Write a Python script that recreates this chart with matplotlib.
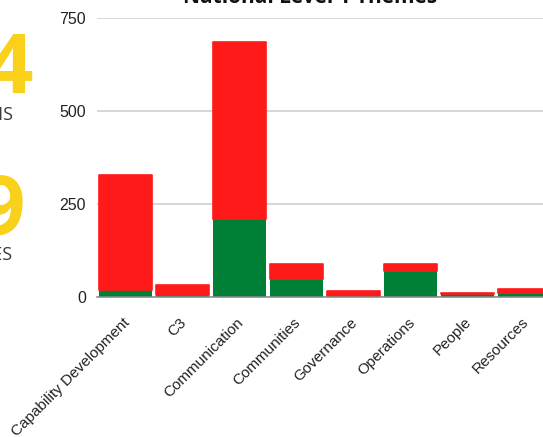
import matplotlib.pyplot as plt
from matplotlib.transforms import ScaledTranslation

# Theme counts per category (green = closed, red = still open)
categories = ["Capability Development", "C3", "Communication", "Communities",
              "Governance", "Operations", "People", "Resources"]
closed = [20, 6, 210, 48, 4, 71, 8, 12]
open_items = [308, 25, 475, 41, 11, 19, 4, 10]
y_ticks = [0, 250, 500, 750]

GREEN = "#008037"
RED = "#ff1a1a"

W, H = 543, 437
fig = plt.figure(figsize=(W / 100, H / 100), dpi=100)

# axes placed in pixel terms; the right end runs past the figure edge
left, right, top, bottom = 97, 97 + 57 * len(categories), 18, 297
ax = fig.add_axes([left / W, 1 - bottom / H, (right - left) / W, (bottom - top) / H])

x = range(len(categories))
ax.bar(x, closed, width=0.93, color=GREEN, zorder=3)
ax.bar(x, open_items, bottom=closed, width=0.93, color=RED, edgecolor=RED,
       linewidth=1.2, joinstyle="round", zorder=3)

ax.set_xlim(-0.5, len(categories) - 0.5)
ax.set_ylim(0, 750)
ax.set_yticks(y_ticks)
ax.set_yticklabels([str(v) for v in y_ticks], fontsize=11.5,
                   fontfamily="Liberation Sans", color="#222222")
ax.set_xticks(list(x))
ax.set_xticklabels(categories, rotation=45, ha="right", va="top",
                   fontsize=11, fontfamily="Liberation Sans", color="#222222")
ax.tick_params(axis="y", length=0, pad=8)
ax.tick_params(axis="x", length=0, pad=5)

# nudge the slanted category labels down and right of the bar centres
shift = ScaledTranslation(5 / 72, -8 / 72, fig.dpi_scale_trans)
for lbl in ax.get_xticklabels():
    lbl.set_transform(lbl.get_transform() + shift)

ax.grid(axis="y", color="#cccccc", linewidth=1.1, zorder=0)
for s in ["top", "right", "left"]:
    ax.spines[s].set_visible(False)
ax.spines["bottom"].set_color("#888888")
ax.spines["bottom"].set_linewidth(1.1)
ax.spines["bottom"].set_zorder(4)

fig.text(310 / W, 1 - 3 / H, "National Level 1 Themes", ha="center", va="baseline",
         fontsize=15, fontweight="bold", fontfamily="Open Sans", color="#111111")

# summary figures on the left, partly cut by the figure edge
fig.text(33 / W, 1 - 93 / H, "4", ha="right", va="baseline", fontsize=60,
         fontweight="bold", fontfamily="Open Sans", color="#f9d11b")
fig.text(13 / W, 1 - 120 / H, "ACTIONS", ha="right", va="baseline", fontsize=13,
         fontfamily="Open Sans", color="#3a3a3a")
fig.text(25 / W, 1 - 235 / H, "9", ha="right", va="baseline", fontsize=60,
         fontweight="bold", fontfamily="Open Sans", color="#f9d11b")
fig.text(13 / W, 1 - 260 / H, "THEMES", ha="right", va="baseline", fontsize=13,
         fontfamily="Open Sans", color="#3a3a3a")

fig.savefig("out.png", dpi=100)
